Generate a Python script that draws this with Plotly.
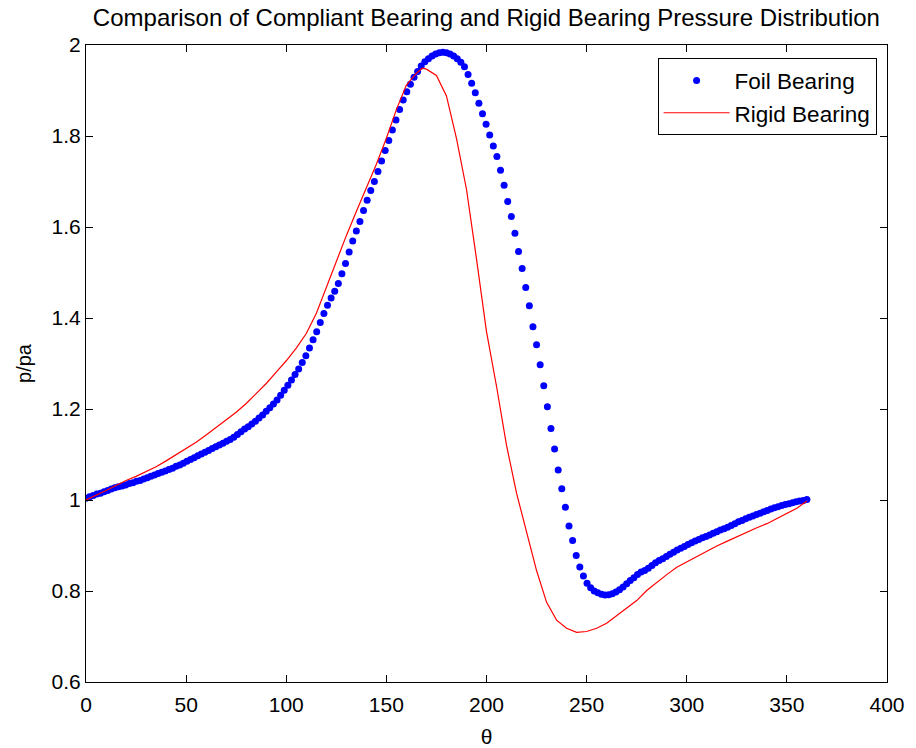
import plotly.graph_objects as go

# ---- data ----
foil_theta_step = 1.8
foil_p = [
    1.004, 1.007, 1.010, 1.013, 1.015, 1.018, 1.021, 1.024, 1.027, 1.029,
    1.031, 1.033, 1.036, 1.038, 1.041, 1.043, 1.046, 1.049, 1.052, 1.055,
    1.058, 1.061, 1.064, 1.067, 1.070, 1.074, 1.077, 1.081, 1.085, 1.089,
    1.093, 1.097, 1.101, 1.105, 1.109, 1.113, 1.117, 1.121, 1.125, 1.129,
    1.133, 1.138, 1.144, 1.150, 1.156, 1.161, 1.167, 1.173, 1.180, 1.187,
    1.195, 1.203, 1.211, 1.220, 1.230, 1.241, 1.252, 1.264, 1.276, 1.288,
    1.302, 1.317, 1.334, 1.352, 1.370, 1.390, 1.410, 1.428, 1.444, 1.459,
    1.476, 1.497, 1.520, 1.545, 1.569, 1.591, 1.612, 1.636, 1.659, 1.680,
    1.700, 1.722, 1.745, 1.768, 1.790, 1.813, 1.835, 1.858, 1.879, 1.897,
    1.914, 1.929, 1.942, 1.954, 1.963, 1.970, 1.976, 1.980, 1.983, 1.984,
    1.983, 1.980, 1.976, 1.970, 1.962, 1.952, 1.935, 1.916, 1.895, 1.872,
    1.849, 1.826, 1.802, 1.778, 1.755, 1.725, 1.692, 1.656, 1.623, 1.586,
    1.546, 1.509, 1.467, 1.427, 1.381, 1.341, 1.297, 1.251, 1.205, 1.157,
    1.112, 1.066, 1.025, 0.984, 0.943, 0.911, 0.878, 0.853, 0.833, 0.817,
    0.807, 0.800, 0.796, 0.793, 0.791, 0.792, 0.794, 0.798, 0.803, 0.809,
    0.816, 0.823, 0.829, 0.836, 0.842, 0.845, 0.850, 0.856, 0.862, 0.867,
    0.871, 0.876, 0.881, 0.885, 0.890, 0.894, 0.898, 0.902, 0.906, 0.910,
    0.913, 0.917, 0.920, 0.923, 0.927, 0.930, 0.934, 0.937, 0.940, 0.944,
    0.948, 0.952, 0.955, 0.959, 0.962, 0.965, 0.968, 0.971, 0.974, 0.977,
    0.980, 0.983, 0.985, 0.988, 0.990, 0.992, 0.994, 0.996, 0.998, 0.999,
    1.001,
]
foil_theta = [round(foil_theta_step * i, 1) for i in range(len(foil_p))]

rigid_theta = [
    0, 5, 10, 15, 20, 25, 30, 35, 40, 45, 50, 55, 60, 65, 70, 75, 80, 85, 90,
    95, 100, 105, 110, 115, 120, 125, 130, 135, 140, 145, 150, 155, 160, 165,
    168, 170, 175, 180, 185, 190, 195, 200, 205, 210, 215, 220, 225, 230, 235,
    240, 245, 250, 255, 260, 265, 270, 275, 280, 285, 290, 295, 300, 305, 310,
    315, 320, 325, 330, 335, 340, 345, 350, 355, 360,
]
rigid_p = [
    1.000, 1.010, 1.021, 1.032, 1.043, 1.052, 1.062, 1.073, 1.086, 1.100,
    1.113, 1.127, 1.143, 1.160, 1.175, 1.193, 1.212, 1.234, 1.256, 1.281,
    1.306, 1.334, 1.366, 1.410, 1.468, 1.525, 1.581, 1.634, 1.686, 1.738,
    1.795, 1.858, 1.912, 1.938, 1.949, 1.947, 1.933, 1.888, 1.795, 1.683,
    1.530, 1.370, 1.250, 1.120, 1.015, 0.929, 0.845, 0.775, 0.736, 0.718,
    0.709, 0.711, 0.718, 0.729, 0.745, 0.763, 0.779, 0.801, 0.819, 0.836,
    0.852, 0.864, 0.875, 0.888, 0.899, 0.909, 0.919, 0.930, 0.939, 0.948,
    0.959, 0.970, 0.982, 0.998,
]

x_ticks = [0, 50, 100, 150, 200, 250, 300, 350, 400]
y_ticks = [0.6, 0.8, 1.0, 1.2, 1.4, 1.6, 1.8, 2.0]
y_tick_labels = ["0.6", "0.8", "1", "1.2", "1.4", "1.6", "1.8", "2"]

title_text = "Comparison of Compliant Bearing and Rigid Bearing Pressure Distribution"
x_label = "θ"
y_label = "p/pa"

FONT = "Liberation Sans, Arial, sans-serif"

fig = go.Figure()
fig.add_trace(go.Scatter(
    x=foil_theta, y=foil_p, mode="markers", name="Foil Bearing",
    marker=dict(color="#0000ff", size=7, line=dict(width=0)),
))
fig.add_trace(go.Scatter(
    x=rigid_theta, y=rigid_p, mode="lines", name="Rigid Bearing",
    line=dict(color="#ff0000", width=1.2),
))

axis_common = dict(
    showline=True, linecolor="black", linewidth=1, mirror="ticks",
    ticks="inside", ticklen=7, tickcolor="black", tickwidth=1,
    showgrid=False, zeroline=False, automargin=False,
    tickfont=dict(family=FONT, size=21, color="black"),
)

fig.update_layout(
    width=916, height=748,
    margin=dict(l=86, r=29, t=45, b=66),
    paper_bgcolor="white", plot_bgcolor="white",
    title=dict(text=title_text, x=0.531, xanchor="center", y=0.976, yanchor="middle",
               font=dict(family=FONT, size=24, color="black")),
    xaxis=dict(range=[0, 400], tickvals=x_ticks, ticklabelstandoff=4,
               title=dict(text=x_label, font=dict(family=FONT, size=21, color="black"), standoff=14),
               **axis_common),
    yaxis=dict(range=[0.6, 2.0], tickvals=y_ticks, ticktext=y_tick_labels,
               title=dict(text=y_label, font=dict(family=FONT, size=20, color="black"), standoff=14),
               **axis_common),
    legend=dict(x=0.987, y=0.979, xanchor="right", yanchor="top",
                bgcolor="white", bordercolor="black", borderwidth=1,
                font=dict(family=FONT, size=22.5, color="black"),
                itemwidth=66, tracegroupgap=0),
    showlegend=True,
)

fig.write_html("out.html")
